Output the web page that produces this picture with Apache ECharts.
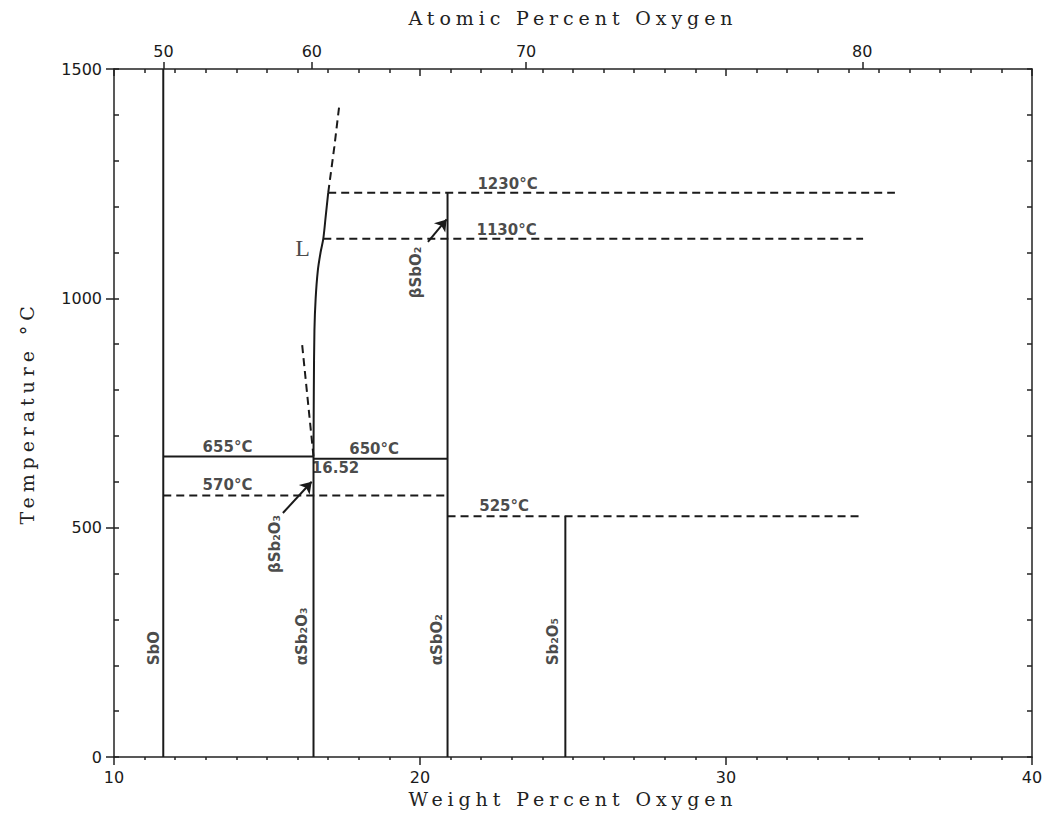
<!DOCTYPE html>
<html>
<head>
<meta charset="utf-8">
<script src="https://cdn.jsdelivr.net/npm/echarts@6/dist/echarts.min.js"></script>
<style>
  html, body { margin: 0; padding: 0; background: #fff; }
  #chart { width: 1046px; height: 814px; }
  /* typewriter-like spacing for the axis titles */
  #chart text[style*="DejaVu Serif"] { letter-spacing: 4.9px; }
</style>
</head>
<body>
<div id="chart"></div>
<script>
// phase boundaries, [weight % O, temperature °C]
var sboLine = [[11.61, 0], [11.61, 1500]];
var sb2o3Line = [[16.52, 0], [16.52, 655]];
var sbo2Line = [[20.9, 0], [20.9, 1230]];
var sb2o5Line = [[24.75, 0], [24.75, 525]];
var line655 = [[11.61, 655], [16.52, 655]];
var line650 = [[16.52, 650], [20.9, 650]];
var line570 = [[11.61, 570], [20.9, 570]];
var line525 = [[20.9, 525], [34.48, 525]];
var line1130 = [[16.84, 1130], [34.48, 1130]];
var line1230 = [[17.0, 1230], [35.52, 1230]];
var liquidus = [[16.52, 655], [16.53, 800], [16.55, 930], [16.59, 1000], [16.66, 1060],
  [16.75, 1100], [16.84, 1130], [16.92, 1180], [17.0, 1230]];
var liquidusUp = [[17.0, 1230], [17.2, 1330], [17.37, 1425]];
var liquidusDown = [[16.52, 655], [16.15, 898]];

// arrows from the beta labels to their lines
var arrows = [
  [[15.52, 532], [16.46, 600]],
  [[20.26, 1123], [20.87, 1172]]
];

// labels [text, wt %, °C]
var tempLabels = [
  ['1230°C', 22.86, 1249],
  ['1130°C', 22.83, 1150],
  ['655°C', 13.71, 676],
  ['650°C', 18.5, 672],
  ['16.52', 17.24, 630],
  ['570°C', 13.71, 594],
  ['525°C', 22.75, 547]
];
var phaseLabels = [
  ['SbO', 11.31, 200],
  ['αSb₂O₃', 16.14, 200],
  ['αSbO₂', 20.56, 200],
  ['Sb₂O₅', 24.35, 200],
  ['βSb₂O₃', 15.26, 401],
  ['βSbO₂', 19.87, 1000]
];
var liquidLabel = ['L', 16.16, 1109];

// top axis ticks, atomic % O
var atomicTicks = [50, 60, 70, 80];

// Sb = 121.76, O = 16
function atToWt(at) { return at * 16 / (at * 16 + (100 - at) * 121.76) * 100 }
function wtToAt(wt) { var o = wt / 16, s = (100 - wt) / 121.76; return o / (o + s) * 100 }

var ink = '#1a1a1a';
var axisColor = '#222';
var tickFont = { fontFamily: 'DejaVu Sans', fontSize: 16, color: ink };
var plotFont = { fontFamily: 'DejaVu Sans', fontSize: 15, fontWeight: 'bold', color: ink };
var titleFont = { fontFamily: 'DejaVu Serif', fontSize: 19, color: '#222' };
var axisLineStyle = { color: axisColor, width: 1.5 };

function solid(data, smooth) {
  return { type: 'line', data: data, showSymbol: false, symbol: 'none', silent: true, smooth: smooth || false,
    lineStyle: { color: ink, width: 2 } };
}
function dashed(data) {
  return { type: 'line', data: data, showSymbol: false, symbol: 'none', silent: true,
    lineStyle: { color: ink, width: 2, type: [8, 5] } };
}

var chart = echarts.init(document.getElementById('chart'), null, { renderer: 'svg' });

var frame = { left: 114, right: 14, top: 69, bottom: 57 };

var option = {
  animation: false,
  backgroundColor: '#fff',
  // three grids on the same rectangle, so the frame can carry ticks on every side
  grid: [frame, frame, frame],
  xAxis: [
    {
      gridIndex: 0, type: 'value', position: 'bottom', min: 10, max: 40, interval: 10,
      name: 'Weight Percent Oxygen', nameLocation: 'middle', nameGap: 27, nameTextStyle: titleFont,
      axisLine: { show: true, onZero: false, lineStyle: axisLineStyle },
      axisTick: { show: true, inside: false, length: 8, lineStyle: axisLineStyle },
      minorTick: { show: true, splitNumber: 10, length: 3, lineStyle: axisLineStyle },
      axisLabel: Object.assign({ margin: 12 }, tickFont),
      splitLine: { show: false }, minorSplitLine: { show: false }
    },
    {
      gridIndex: 1, type: 'value', position: 'top', min: 10, max: 40, interval: 10,
      axisLine: { show: true, onZero: false, lineStyle: axisLineStyle },
      axisTick: { show: true, inside: true, length: 7, lineStyle: axisLineStyle },
      minorTick: { show: true, splitNumber: 10, length: 4, lineStyle: axisLineStyle },
      axisLabel: { show: false },
      splitLine: { show: false }, minorSplitLine: { show: false }
    },
    {
      gridIndex: 2, type: 'value', position: 'top', min: 10, max: 40,
      name: 'Atomic Percent Oxygen', nameLocation: 'middle', nameGap: 42, nameTextStyle: titleFont,
      axisLine: { show: false, onZero: false },
      axisTick: { show: true, inside: false, length: 7, customValues: atomicTicks.map(atToWt),
        lineStyle: axisLineStyle },
      axisLabel: Object.assign({
        margin: 10, customValues: atomicTicks.map(atToWt),
        formatter: function (v) { return String(Math.round(wtToAt(v))) }
      }, tickFont),
      splitLine: { show: false }
    }
  ],
  yAxis: [
    {
      gridIndex: 0, type: 'value', position: 'left', min: 0, max: 1500, interval: 500,
      name: 'Temperature °C', nameLocation: 'middle', nameGap: 78, nameRotate: 90, nameTextStyle: titleFont,
      axisLine: { show: true, onZero: false, lineStyle: axisLineStyle },
      axisTick: { show: true, inside: false, length: 8, lineStyle: axisLineStyle },
      axisLabel: Object.assign({ margin: 12, formatter: function (v) { return String(v) } }, tickFont),
      splitLine: { show: false }
    },
    {
      gridIndex: 1, type: 'value', position: 'right', min: 0, max: 1500, interval: 100,
      axisLine: { show: true, onZero: false, lineStyle: axisLineStyle },
      axisTick: { show: true, inside: true, length: 5, lineStyle: axisLineStyle },
      axisLabel: { show: false },
      splitLine: { show: false }
    },
    {
      gridIndex: 2, type: 'value', position: 'left', min: 0, max: 1500, interval: 100,
      axisLine: { show: false, onZero: false },
      axisTick: { show: true, inside: true, length: 5, lineStyle: axisLineStyle },
      axisLabel: { show: false },
      splitLine: { show: false }
    }
  ],
  series: [
    solid(sboLine), solid(sb2o3Line), solid(sbo2Line), solid(sb2o5Line),
    solid(line655), solid(line650), solid(liquidus, 0.3),
    dashed(line570), dashed(line525), dashed(line1130), dashed(line1230),
    dashed(liquidusUp), dashed(liquidusDown),
    {
      type: 'lines', coordinateSystem: 'cartesian2d', silent: true,
      symbol: ['none', 'arrow'], symbolSize: 11,
      lineStyle: { color: ink, width: 2, opacity: 1 },
      data: arrows.map(function (a) { return { coords: a } })
    },
    {
      type: 'scatter', symbolSize: 1, itemStyle: { color: 'transparent' }, silent: true,
      label: Object.assign({ show: true, position: 'inside', align: 'center', verticalAlign: 'middle',
        formatter: function (p) { return p.name } }, plotFont),
      data: tempLabels.map(function (d) { return { name: d[0], value: [d[1], d[2]] } })
    },
    {
      type: 'scatter', symbolSize: 1, itemStyle: { color: 'transparent' }, silent: true,
      label: Object.assign({ show: true, position: 'inside', rotate: 90, align: 'left', verticalAlign: 'middle',
        formatter: function (p) { return p.name } }, plotFont),
      data: phaseLabels.map(function (d) { return { name: d[0], value: [d[1], d[2]] } })
    },
    {
      type: 'scatter', symbolSize: 1, itemStyle: { color: 'transparent' }, silent: true,
      label: { show: true, position: 'inside', align: 'center', verticalAlign: 'middle',
        fontFamily: 'Liberation Serif', fontSize: 24, color: ink,
        formatter: function (p) { return p.name } },
      data: [{ name: liquidLabel[0], value: [liquidLabel[1], liquidLabel[2]] }]
    }
  ]
};

chart.setOption(option);
</script>
</body>
</html>
